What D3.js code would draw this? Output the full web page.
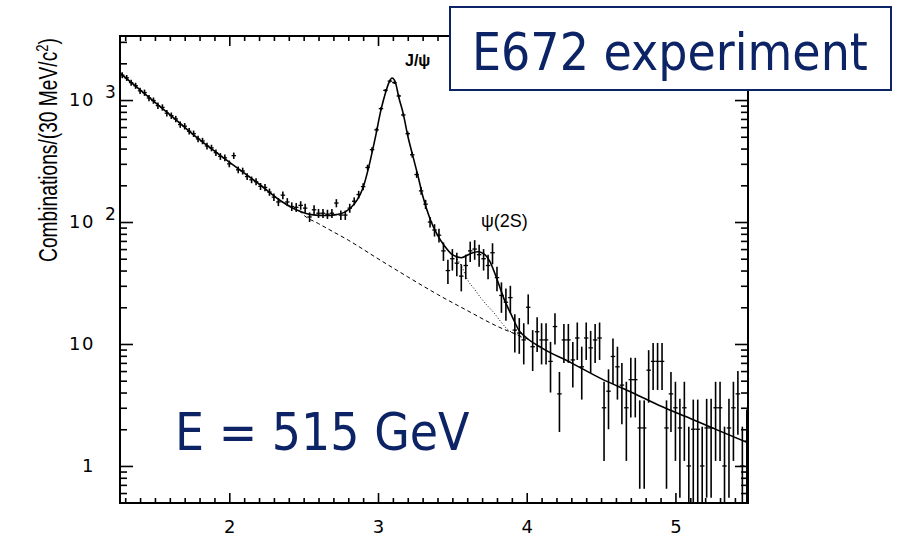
<!DOCTYPE html>
<html>
<head>
<meta charset="utf-8">
<script src="https://cdn.jsdelivr.net/npm/d3@7"></script>
<style>
  html, body { margin: 0; padding: 0; background: #fff; }
  svg { display: block; }
</style>
</head>
<body>
<svg id="chart" width="897" height="536"></svg>
<script>
// Invariant-mass spectrum, 30 MeV/c^2 bins, with J/psi and psi(2S) peaks
const binWidth = 0.03;
const binCenters = d3.range(141).map(i => +(1.28 + binWidth * i).toFixed(2));

const counts = [
  1600, 1520, 1390, 1310, 1190, 1150, 1040, 990, 900, 870,
  780, 745, 700, 630, 610, 555, 530, 480, 462, 420,
  405, 370, 345, 336, 300, 350, 268, 262, 236, 222,
  214, 196, 192, 176, 160, 146, 166, 146, 134, 132,
  137, 130, 110, 126, 118, 118, 116, 118, 143, 114,
  114, 130, 148, 168, 195, 280, 392, 570, 850, 1200,
  1430, 1390, 1080, 755, 530, 356, 245, 180, 140, 100,
  86, 78, 58, 40, 50, 46, 36, 44, 58, 60,
  54, 50, 44, 56, 35, 25, 22, 24, 13, 12.3,
  10.8, 20, 9.5, 12.6, 10.8, 10.8, 7.2, 13.9, 3.9, 10.8,
  10.8, 7.4, 11.2, 6.5, 11.2, 9.3, 10.8, 11.2, 3.0, 4.1,
  7.9, 6.5, 4.6, 3.0, 5.1, 5.1, 2.05, 2.05, 6.1, 7.2,
  7.2, 7.2, 2.05, 3.9, 3.0, 2.05, 3.0, 1.0, 2.0, 2.0,
  1.0, 2.05, 2.05, 3.0, 3.0, 1.0, 2.05, 3.0, 3.9, 1.0,
  1.6
];

const errors = [
  90, 85, 80, 75, 70, 68, 62, 58, 54, 52,
  47, 45, 42, 38, 37, 34, 32, 29, 28, 26,
  25, 23, 22, 21, 19, 21, 17, 17, 15, 14,
  14, 13, 13, 12, 11, 11, 12, 11, 11, 11,
  11, 11, 10, 11, 10, 10, 10, 10, 11, 10,
  10, 11, 11, 12, 13, 15, 18, 22, 27, 32,
  36, 36, 32, 26, 22, 18, 15, 13, 12, 10,
  10, 10, 10, 9, 10, 10, 9, 10, 11, 11,
  11, 10, 10, 11, 8, 7, 6.5, 6, 4.5, 4,
  4, 5.5, 3.5, 4, 4, 4, 3.2, 4, 2, 3.8,
  3.8, 3, 3.8, 3, 3.8, 3.5, 3.8, 3.8, 1.9, 2.1,
  3.2, 3, 2.4, 1.9, 2.6, 2.6, 1.4, 1.4, 2.8, 3,
  3, 3, 1.4, 2, 1.9, 1.5, 1.9, 1.1, 1.5, 1.5,
  1.1, 1.5, 1.5, 1.9, 1.9, 1.1, 1.5, 1.9, 2.1, 1.1,
  1.3
];

// Full fit (background + J/psi + psi(2S))
const fitMass  = [1.265, 1.4, 1.6, 1.8, 2.0, 2.2, 2.35, 2.45, 2.55, 2.65, 2.72, 2.78, 2.82, 2.86, 2.9,
                  2.94, 2.98, 3.02, 3.05, 3.075, 3.094, 3.115, 3.14, 3.17, 3.2, 3.235, 3.27, 3.3, 3.35,
                  3.4, 3.45, 3.5, 3.56, 3.62, 3.67, 3.71, 3.75, 3.8, 3.85, 3.9, 3.95, 4.0, 4.1, 4.3,
                  4.5, 4.715, 4.9, 5.1, 5.3, 5.488];
const fitValue = [1663, 1210, 760, 473, 310, 205, 148, 126, 115, 113, 115, 121, 132, 152, 192,
                  290, 480, 830, 1140, 1400, 1515, 1420, 1050, 770, 510, 345, 235, 165, 106,
                  78, 63, 54, 51, 55, 57, 55, 48, 34, 23, 17, 12.8, 11.2, 9.3, 7.0,
                  5.2, 3.97, 3.1, 2.45, 1.93, 1.55];

// Continuum background alone (dashed)
const bgMass  = [2.47, 2.5, 2.6, 2.7, 2.8, 3.0, 3.2, 3.4, 3.6, 3.8, 3.95, 4.02];
const bgValue = [124, 114, 97, 83, 71, 50, 35.5, 25.5, 18.8, 14, 11.7, 10.8];

// Background + J/psi without psi(2S) (dotted)
const noPsi2SMass  = [3.52, 3.56, 3.6, 3.65, 3.69, 3.73, 3.78, 3.83, 3.87, 3.93, 3.98];
const noPsi2SValue = [52, 44, 34, 28, 24, 21, 18, 15, 13.2, 12, 11];

const xMajorTicks = [2, 3, 4, 5];
const yMajorTicks = [1, 10, 100, 1000];
const yTickBase = ["1", "10", "10", "10"];
const yTickExp  = ["", "", "2", "3"];

const navy = "#0c2366";
const tickFont = "'DejaVu Sans', Verdana, sans-serif";
const plot = { left: 120, right: 748, top: 36, bottom: 503 };

const svg = d3.select("#chart");
svg.append("rect").attr("width", 897).attr("height", 536).attr("fill", "#fff");

const x = d3.scaleLinear().domain([1.265, 5.488]).range([plot.left, plot.right]);
const y = d3.scaleLog().domain([0.497, 3350]).range([plot.bottom, plot.top]);

const xMinor = d3.range(13, 55).map(k => k / 10).filter(v => !xMajorTicks.includes(v));
const yMinor = [];
[0.1, 1, 10, 100, 1000].forEach(dec => {
  for (let k = 2; k <= 9; k++) {
    const v = dec * k;
    if (v > 0.5 && v < 3350) yMinor.push(v);
  }
});

function styleAxis(g) {
  g.select(".domain").remove();
  g.selectAll(".tick line").attr("stroke", "#000").attr("stroke-width", 1.6);
  g.attr("font-family", tickFont).attr("font-size", 18);
  g.selectAll("text").attr("fill", "#000");
}

// squeeze a text horizontally so that its width becomes `target` px
function condense(textSel, target, tx, ty, rotate) {
  const w = textSel.node().getBBox().width;
  const k = Math.min(1, target / w);
  textSel.attr("transform",
    `translate(${tx},${ty})` + (rotate ? ` rotate(${rotate})` : "") + ` scale(${k},1)`);
}

// bottom axis
svg.append("g").attr("transform", `translate(0,${plot.bottom})`)
  .call(d3.axisBottom(x).tickValues(xMajorTicks).tickSizeInner(-10).tickSizeOuter(0)
        .tickPadding(17).tickFormat(d3.format("d")))
  .call(styleAxis);
svg.append("g").attr("transform", `translate(0,${plot.bottom})`)
  .call(d3.axisBottom(x).tickValues(xMinor).tickSizeInner(-5).tickSizeOuter(0).tickFormat(""))
  .call(styleAxis);

// top axis (mirrored ticks)
svg.append("g").attr("transform", `translate(0,${plot.top})`)
  .call(d3.axisTop(x).tickValues(xMajorTicks).tickSizeInner(-10).tickSizeOuter(0).tickFormat(""))
  .call(styleAxis);
svg.append("g").attr("transform", `translate(0,${plot.top})`)
  .call(d3.axisTop(x).tickValues(xMinor).tickSizeInner(-5).tickSizeOuter(0).tickFormat(""))
  .call(styleAxis);

// left axis
const yAxisG = svg.append("g").attr("transform", `translate(${plot.left},0)`)
  .call(d3.axisLeft(y).tickValues(yMajorTicks).tickSizeInner(-13).tickSizeOuter(0)
        .tickPadding(25).tickFormat((d, i) => yTickBase[i]))
  .call(styleAxis);
yAxisG.selectAll(".tick text").attr("letter-spacing", 1.5);
yAxisG.selectAll(".tick").each(function (d, i) {
  if (yTickExp[i]) {
    d3.select(this).append("text")
      .attr("x", -15).attr("y", -3)
      .attr("text-anchor", "start")
      .attr("fill", "#000")
      .attr("font-size", 17)
      .text(yTickExp[i]);
  }
});
svg.append("g").attr("transform", `translate(${plot.left},0)`)
  .call(d3.axisLeft(y).tickValues(yMinor).tickSizeInner(-7).tickSizeOuter(0).tickFormat(""))
  .call(styleAxis);

// right axis (mirrored ticks)
svg.append("g").attr("transform", `translate(${plot.right},0)`)
  .call(d3.axisRight(y).tickValues(yMajorTicks).tickSizeInner(-13).tickSizeOuter(0).tickFormat(""))
  .call(styleAxis);
svg.append("g").attr("transform", `translate(${plot.right},0)`)
  .call(d3.axisRight(y).tickValues(yMinor).tickSizeInner(-7).tickSizeOuter(0).tickFormat(""))
  .call(styleAxis);

// frame
svg.append("rect")
  .attr("x", plot.left).attr("y", plot.top)
  .attr("width", plot.right - plot.left).attr("height", plot.bottom - plot.top)
  .attr("fill", "none").attr("stroke", "#000").attr("stroke-width", 2);

// axis title
const yTitle = svg.append("text")
  .attr("text-anchor", "middle")
  .attr("font-family", "'Liberation Sans', Arial, sans-serif")
  .attr("font-size", 25)
  .attr("fill", "#000");
yTitle.append("tspan").text("Combinations/(30 MeV/c");
yTitle.append("tspan").attr("dy", -9).attr("font-size", 17).text("2");
yTitle.append("tspan").attr("dy", 9).text(")");
condense(yTitle, 224, 57, 150, -90);

// clipped plotting area
svg.append("clipPath").attr("id", "plotClip")
  .append("rect")
  .attr("x", plot.left).attr("y", plot.top)
  .attr("width", plot.right - plot.left).attr("height", plot.bottom - plot.top);
const area = svg.append("g").attr("clip-path", "url(#plotClip)");

const line = d3.line().x(d => x(d[0])).y(d => y(d[1])).curve(d3.curveMonotoneX);

// background (dashed)
area.append("path")
  .datum(bgMass.map((m, i) => [m, bgValue[i]]))
  .attr("d", line).attr("fill", "none")
  .attr("stroke", "#000").attr("stroke-width", 1).attr("stroke-dasharray", "4,3");

// background + J/psi only (dotted)
area.append("path")
  .datum(noPsi2SMass.map((m, i) => [m, noPsi2SValue[i]]))
  .attr("d", line).attr("fill", "none")
  .attr("stroke", "#000").attr("stroke-width", 1).attr("stroke-dasharray", "1,2");

// full fit
area.append("path")
  .datum(fitMass.map((m, i) => [m, fitValue[i]]))
  .attr("d", line).attr("fill", "none")
  .attr("stroke", "#000").attr("stroke-width", 1.6);

// data points with error bars
const pts = binCenters.map((m, i) => ({ m, v: counts[i], e: errors[i] }));
const yMin = y.domain()[0];
const pg = area.append("g").attr("stroke", "#000");
pg.selectAll("line.ev").data(pts).join("line").attr("class", "ev")
  .attr("x1", d => x(d.m)).attr("x2", d => x(d.m))
  .attr("y1", d => (d.v - d.e) > yMin ? y(d.v - d.e) : plot.bottom + 2)
  .attr("y2", d => y(d.v + d.e))
  .attr("stroke-width", 1.6);
pg.selectAll("line.eh").data(pts).join("line").attr("class", "eh")
  .attr("x1", d => x(d.m - binWidth / 2)).attr("x2", d => x(d.m + binWidth / 2))
  .attr("y1", d => y(d.v)).attr("y2", d => y(d.v))
  .attr("stroke-width", 1.3);

// peak labels
svg.append("text").attr("x", 405).attr("y", 66)
  .attr("font-family", "'Liberation Sans', Arial, sans-serif")
  .attr("font-size", 16).attr("font-weight", "bold").attr("fill", "#000")
  .text("J/ψ");
svg.append("text").attr("x", 481).attr("y", 227)
  .attr("font-family", "'Liberation Sans', Arial, sans-serif")
  .attr("font-size", 18).attr("fill", "#000")
  .text("ψ(2S)");

// experiment box
svg.append("rect")
  .attr("x", 450).attr("y", 7).attr("width", 441).attr("height", 83)
  .attr("fill", "#fff").attr("stroke", navy).attr("stroke-width", 2);
const expText = svg.append("text")
  .attr("font-family", "'DejaVu Sans', Verdana, sans-serif")
  .attr("font-size", 52).attr("fill", navy)
  .text("E672 experiment");
condense(expText, 396, 472, 70);

// beam energy
const energyText = svg.append("text")
  .attr("font-family", "'DejaVu Sans', Verdana, sans-serif")
  .attr("font-size", 52).attr("fill", navy)
  .text("E = 515 GeV");
condense(energyText, 295, 175, 450);
</script>
</body>
</html>
